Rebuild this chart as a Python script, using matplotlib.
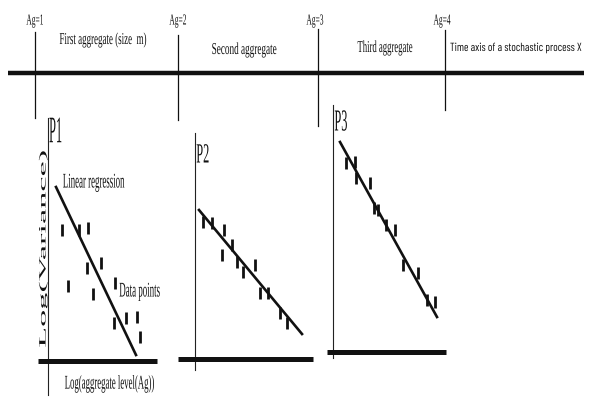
import numpy as np
import matplotlib
matplotlib.use("Agg")
import matplotlib.pyplot as plt
from matplotlib.patheffects import AbstractPathEffect
from matplotlib.transforms import Affine2D

# ---------------- data ----------------
ag_labels = ["Ag=1", "Ag=2", "Ag=3", "Ag=4"]
segment_labels = ["First aggregate (size  m)", "Second aggregate", "Third aggregate"]
axis_label = "Time axis of a stochastic process X"
panel_labels = ["P1", "P2", "P3"]

# data points (log aggregate level, log variance) in diagram pixel space
p1_x = [62, 79, 88, 87, 101, 68, 93, 115, 114, 126, 137, 140]
p1_y = [230, 230, 228, 268, 263, 286, 294, 283, 323, 318, 317, 337]
p2_x = [203, 212, 224, 222, 232, 237, 243, 255, 260, 268, 280, 287]
p2_y = [222, 223, 230, 255, 245, 262, 272, 265, 293, 293, 313, 323]
p3_x = [346, 355, 356, 370, 374, 378, 386, 395, 403, 418, 427, 435]
p3_y = [163, 162, 178, 183, 208, 210, 225, 230, 265, 273, 300, 302]
# regression line end points
p1_fit_x, p1_fit_y = [56, 136], [187, 355]
p2_fit_x, p2_fit_y = [199, 302], [210, 334]
p3_fit_x, p3_fit_y = [340, 437], [142, 317]


# ------------- helpers -------------
class Condense(AbstractPathEffect):
    """Scale glyphs along the baseline direction around the text centre."""

    def __init__(self, factor=1.0):
        super().__init__()
        self.factor = factor

    def draw_path(self, renderer, gc, tpath, affine, rgbFace=None):
        ext = tpath.get_extents(affine)
        m = affine.get_matrix()
        u = m[:2, 0] / np.hypot(m[0, 0], m[1, 0])
        cx, cy = ext.x0 + ext.width / 2, ext.y0 + ext.height / 2
        S = np.eye(3)
        S[:2, :2] = np.eye(2) + (self.factor - 1) * np.outer(u, u)
        T = Affine2D().translate(-cx, -cy) + Affine2D(S) + Affine2D().translate(cx, cy)
        renderer.draw_path(gc, tpath, affine + T, rgbFace)


fig = plt.figure(figsize=(5.92, 4), dpi=100)
ax = fig.add_axes([0, 0, 1, 1])
ax.set_xlim(0, 592)
ax.set_ylim(400, 0)
ax.axis("off")
renderer = fig.canvas.get_renderer()

SERIF = "Liberation Serif"
NARROW = ["Barlow Condensed", "Roboto Condensed", "DejaVu Sans"]
texts = []


def label(x, y, s, size, target, family=SERIF, rotation=0, weight="normal"):
    t = ax.text(x, y, s, fontsize=size, family=family, ha="center", va="center",
                rotation=rotation, weight=weight, color="#111111")
    texts.append((t, target, rotation))
    return t


# ------------- top time axis -------------
ax.plot([8, 584], [73, 73], color="#111111", lw=3.2, solid_capstyle="butt")
ag_x = [35, 178, 318, 445]
ag_top = [32, 35, 29, 30]
ag_bot = [118, 120, 126, 110]
ag_lab_x = [35, 178, 315, 442]
for i, lab in enumerate(ag_labels):
    ax.plot([ag_x[i], ag_x[i]], [ag_top[i], ag_bot[i]], color="#111111", lw=0.9)
    label(ag_lab_x[i], 21, lab, 11, 17)

label(103, 40, segment_labels[0], 12, 87)
label(244, 50, segment_labels[1], 12, 65)
label(385, 48, segment_labels[2], 12, 55)
label(516, 48, axis_label, 8.5, 132, family=NARROW)

# ------------- panels -------------
panels = [
    dict(ax_x=48, ax_top=118, ax_bot=395, base_y=361, base_x=(38, 157),
         px=p1_x, py=p1_y, fx=p1_fit_x, fy=p1_fit_y, lab=(56, 133), lsize=27, ms=9),
    dict(ax_x=195, ax_top=133, ax_bot=370, base_y=359, base_x=(178, 313),
         px=p2_x, py=p2_y, fx=p2_fit_x, fy=p2_fit_y, lab=(203, 156), lsize=20, ms=8),
    dict(ax_x=333, ax_top=105, ax_bot=358, base_y=352, base_x=(327, 446),
         px=p3_x, py=p3_y, fx=p3_fit_x, fy=p3_fit_y, lab=(341, 123), lsize=22, ms=9),
]
for i, p in enumerate(panels):
    ax.plot([p["ax_x"], p["ax_x"]], [p["ax_top"], p["ax_bot"]], color="#222222", lw=0.8)
    ax.plot(list(p["base_x"]), [p["base_y"], p["base_y"]], color="#111111", lw=3.6,
            solid_capstyle="butt")
    ax.plot(p["fx"], p["fy"], color="#111111", lw=1.9)
    ax.plot(p["px"], p["py"], ls="none", marker="|", ms=p["ms"], mew=2.0, color="#111111")
    label(p["lab"][0], p["lab"][1], panel_labels[i], p["lsize"], 13)

label(43, 249, "Log(Variance)", 7, 198, rotation=90, weight="normal")
label(110, 384, "Log(aggregate level(Ag))", 14, 90)
label(94, 183, "Linear regression", 15, 62)
label(140, 292, "Data points", 15, 41)

# condense/extend each text to its measured width in the reference
for t, target, rot in texts:
    bb = t.get_window_extent(renderer)
    length = bb.height if rot == 90 else bb.width
    t.set_path_effects([Condense(target / length)])

fig.savefig("out.png", dpi=100)
